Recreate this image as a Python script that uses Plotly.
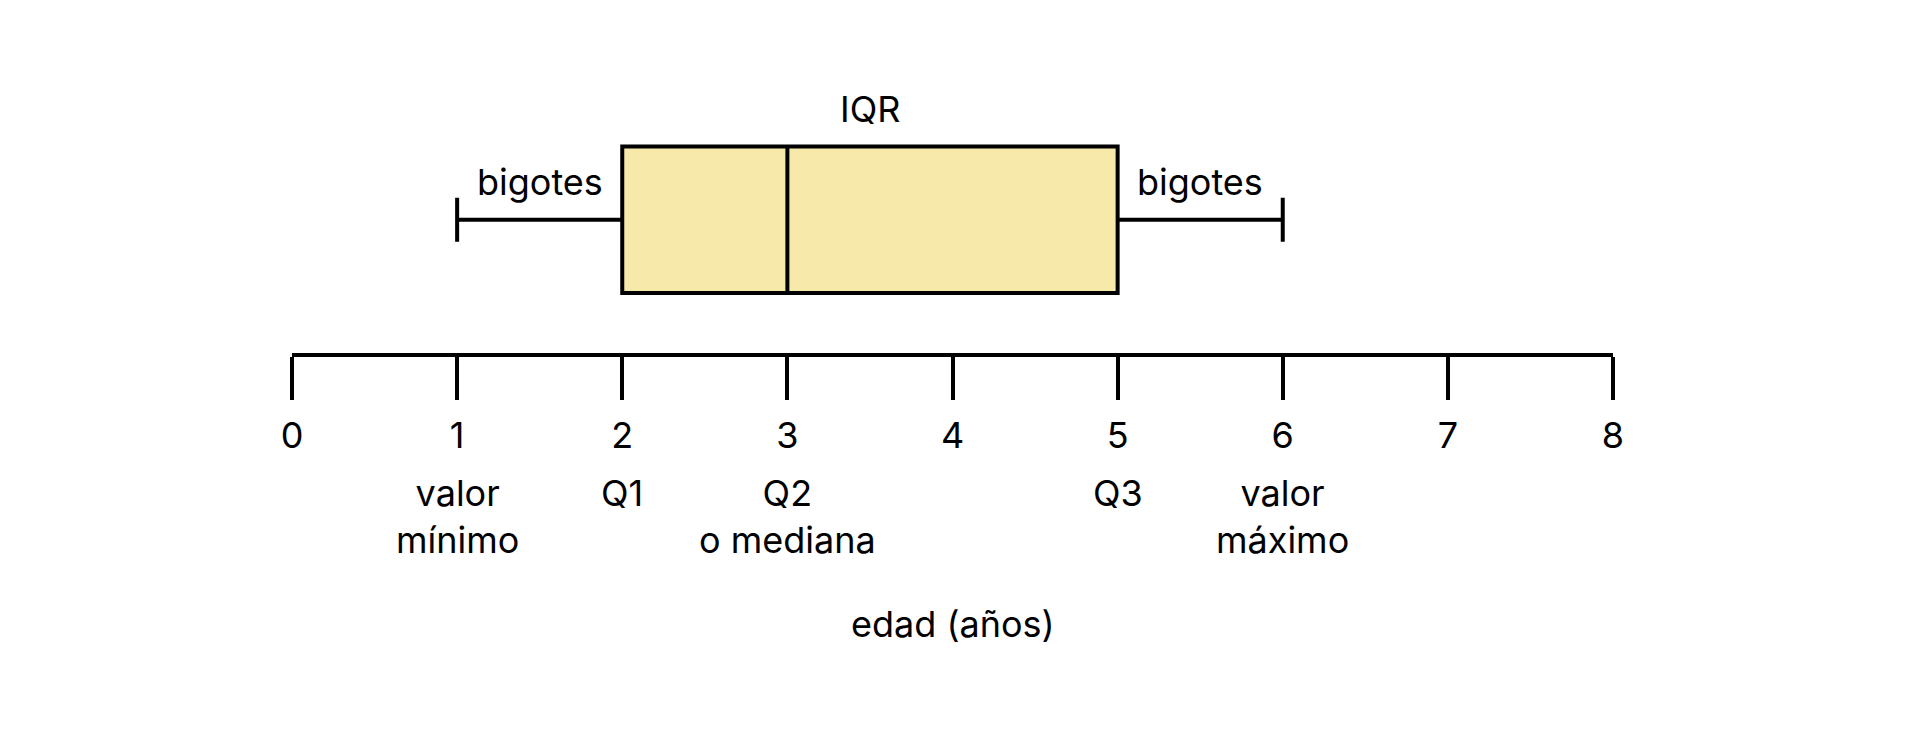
import plotly.graph_objects as go

# ---- data ----
edad_min = 1
q1 = 2
mediana = 3
q3 = 5
edad_max = 6

tick_vals = [0, 1, 2, 3, 4, 5, 6, 7, 8]
tick_text = ["0", "1", "2", "3", "4", "5", "6", "7", "8"]

stat_positions = [edad_min, q1, mediana, q3, edad_max]
stat_labels = ["valor<br>mínimo", "Q1", "Q2<br>o mediana", "Q3", "valor<br>máximo"]

axis_title = "edad (años)"
iqr_label = "IQR"
whisker_label = "bigotes"

FONT = "Inter, Liberation Sans, Arial, sans-serif"
FS = 36
BLACK = "#000000"
FILL = "#F7E9AA"

fig = go.Figure()
fig.add_trace(go.Box(
    y=[0],
    q1=[q1], median=[mediana], q3=[q3],
    lowerfence=[edad_min], upperfence=[edad_max],
    orientation="h",
    width=1,
    whiskerwidth=0.3,
    fillcolor=FILL,
    line=dict(color=BLACK, width=4),
    boxpoints=False,
    hoverinfo="skip",
    showlegend=False,
))

annotations = []
# IQR label centred over the box
annotations.append(dict(x=(q1 + q3) / 2, y=0.755, xref="x", yref="y", text=iqr_label,
                        showarrow=False, xanchor="center", yanchor="middle",
                        font=dict(family=FONT, size=FS, color=BLACK)))
# whisker labels
for xc in [(edad_min + q1) / 2, (q3 + edad_max) / 2]:
    annotations.append(dict(x=xc, y=0.257, xref="x", yref="y", text=whisker_label,
                            showarrow=False, xanchor="center", yanchor="middle",
                            font=dict(family=FONT, size=FS, color=BLACK)))
# statistic labels below the axis
for xv, lab in zip(stat_positions, stat_labels):
    annotations.append(dict(x=xv, y=0, xref="x", yref="paper", text=lab,
                            showarrow=False, xanchor="center", yanchor="top", yshift=-116,
                            font=dict(family=FONT, size=FS, color=BLACK)))
# axis title
annotations.append(dict(x=(tick_vals[0] + tick_vals[-1]) / 2, y=0, xref="x", yref="paper",
                        text=axis_title, showarrow=False, xanchor="center", yanchor="top",
                        yshift=-247, font=dict(family=FONT, size=FS, color=BLACK)))

fig.update_layout(
    width=1914, height=735,
    margin=dict(l=292, r=301, t=60, b=382, pad=0),
    paper_bgcolor="white", plot_bgcolor="white",
    font=dict(family=FONT, size=FS, color=BLACK),
    annotations=annotations,
    xaxis=dict(
        range=[tick_vals[0], tick_vals[-1]],
        tickmode="array", tickvals=tick_vals, ticktext=tick_text,
        ticks="outside", ticklen=43, tickwidth=4, tickcolor=BLACK,
        showline=True, linewidth=4, linecolor=BLACK,
        showgrid=False, zeroline=False,
        tickfont=dict(family=FONT, size=FS, color=BLACK),
        ticklabelstandoff=5,
        fixedrange=True,
    ),
    yaxis=dict(range=[-0.909, 1.091], visible=False, fixedrange=True),
)

fig.write_html("out.html")
